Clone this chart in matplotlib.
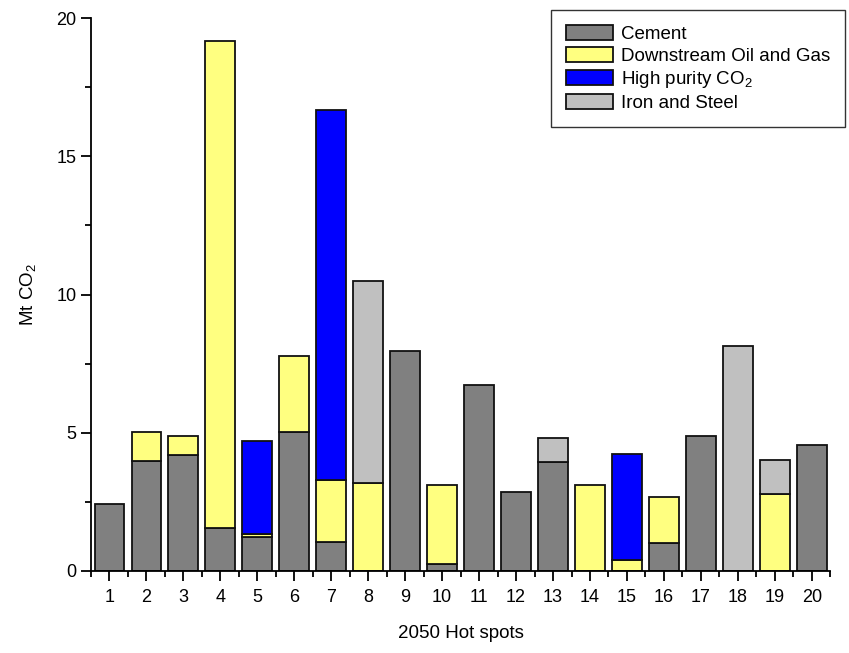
import matplotlib
matplotlib.use("Agg")
import matplotlib.pyplot as plt
import numpy as np
from matplotlib.ticker import MultipleLocator

plt.rcParams['font.family'] = ['Liberation Sans', 'DejaVu Sans']
plt.rcParams['mathtext.fontset'] = 'custom'
plt.rcParams['mathtext.rm'] = 'Liberation Sans'

spots = list(range(1, 21))
cement = [2.43, 3.97, 4.19, 1.55, 1.21, 5.02, 1.04, 0.0, 7.94, 0.23,
          6.74, 2.85, 3.94, 0.0, 0.0, 0.99, 4.88, 0.0, 0.0, 4.55]
oil_gas = [0.0, 1.07, 0.69, 17.62, 0.12, 2.74, 2.24, 3.17, 0.0, 2.87,
           0.0, 0.0, 0.0, 3.10, 0.39, 1.69, 0.0, 0.0, 2.76, 0.0]
high_purity = [0.0, 0.0, 0.0, 0.0, 3.35, 0.0, 13.41, 0.0, 0.0, 0.0,
               0.0, 0.0, 0.0, 0.0, 3.85, 0.0, 0.0, 0.0, 0.0, 0.0]
iron_steel = [0.0, 0.0, 0.0, 0.0, 0.0, 0.0, 0.0, 7.31, 0.0, 0.0,
              0.0, 0.0, 0.85, 0.0, 0.0, 0.0, 0.0, 8.15, 1.25, 0.0]

series = [
    ("Cement", cement, "#808080"),
    ("Downstream Oil and Gas", oil_gas, "#FFFF80"),
    ("High purity CO$_2$", high_purity, "#0000FF"),
    ("Iron and Steel", iron_steel, "#C0C0C0"),
]

fig = plt.figure(figsize=(8.49, 6.53), dpi=100)
ax = fig.add_axes([0.107, 0.126, 0.871, 0.846])

x = np.array(spots)
bottom = np.zeros(len(spots))
handles = []
for name, vals, col in series:
    vals = np.array(vals)
    mask = vals > 0
    b = ax.bar(x[mask], vals[mask], width=0.8, bottom=bottom[mask], color=col,
               edgecolor='#111111', linewidth=1.3, label=name, zorder=2)
    handles.append(b)
    bottom += vals

ax.set_xlim(0.5, 20.5)
ax.set_ylim(0, 20)
ax.spines['top'].set_visible(False)
ax.spines['right'].set_visible(False)
ax.spines['left'].set_linewidth(1.3)
ax.spines['bottom'].set_linewidth(1.3)
ax.set_xticks(spots)
ax.set_xticklabels([str(s) for s in spots])
ax.set_xticks(np.arange(0.5, 21, 1), minor=True)
ax.yaxis.set_major_locator(MultipleLocator(5))
ax.yaxis.set_minor_locator(MultipleLocator(2.5))
ax.tick_params(axis='both', which='major', direction='out', length=7, width=1.3, labelsize=13)
ax.tick_params(axis='both', which='minor', direction='out', length=4, width=1.3)
ax.tick_params(axis='x', which='major', pad=6)

ax.set_xlabel("2050 Hot spots", fontsize=13.5, labelpad=14)
ax.set_ylabel("Mt CO$_2$", fontsize=13.5, labelpad=12)

leg = fig.legend(handles=handles, loc='upper right', bbox_to_anchor=(0.9953, 0.9847),
                 fontsize=13.5, frameon=True, fancybox=False, edgecolor='black',
                 handlelength=2.5, handleheight=0.85, handletextpad=0.4,
                 labelspacing=0.22, borderpad=0.8, borderaxespad=0)
leg.get_frame().set_linewidth(1.0)

fig.savefig("out.png", dpi=100)
